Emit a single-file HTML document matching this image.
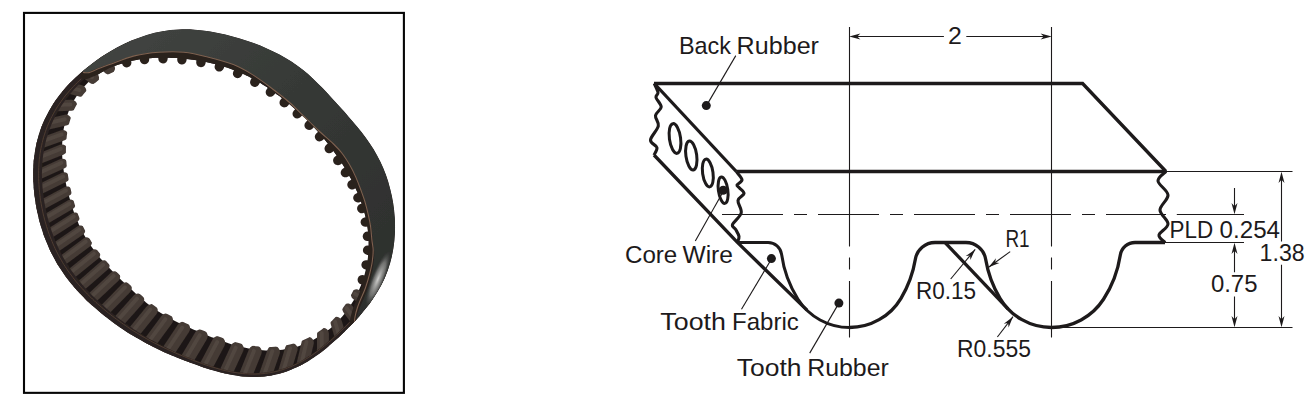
<!DOCTYPE html>
<html lang="en"><head><meta charset="utf-8"><title>Timing belt tooth profile</title>
<style>
html,body{margin:0;padding:0;background:#fff}
svg{display:block}
</style></head>
<body>
<svg width="1310" height="404" viewBox="0 0 1310 404">
<rect width="1310" height="404" fill="#fff"/>

<g>
<defs>
<clipPath id="ringclip"><path d="M390.2 188.9 C389.0 184.1 387.6 179.5 386.0 175.0 C384.3 170.4 382.5 166.0 380.4 161.7 C378.3 157.5 376.0 153.3 373.6 149.3 C371.2 145.3 368.5 141.5 365.8 137.8 C363.1 134.1 360.3 130.5 357.4 127.0 C354.6 123.5 351.7 120.2 348.8 116.9 C345.9 113.5 343.0 110.3 340.0 107.1 C337.1 103.8 334.2 100.6 331.3 97.4 C328.3 94.2 325.3 90.9 322.3 87.8 C319.2 84.6 316.0 81.5 312.8 78.4 C309.5 75.4 306.1 72.4 302.5 69.6 C299.0 66.8 295.3 64.1 291.4 61.6 C287.6 59.0 283.6 56.7 279.5 54.5 C275.4 52.3 271.2 50.3 266.8 48.4 C262.5 46.5 258.1 44.7 253.6 43.1 C249.1 41.5 244.5 39.9 239.8 38.5 C235.0 37.1 230.2 35.8 225.3 34.6 C220.4 33.4 215.4 32.4 210.3 31.5 C205.2 30.7 200.0 30.0 194.7 29.7 C189.5 29.3 184.1 29.2 178.8 29.5 C173.4 29.7 168.0 30.3 162.7 31.2 C157.4 32.1 152.0 33.4 146.8 34.9 C141.6 36.5 136.4 38.4 131.4 40.6 C126.3 42.7 121.4 45.2 116.5 47.8 C111.6 50.5 106.8 53.4 102.1 56.5 C97.5 59.6 92.9 62.9 88.4 66.4 C84.0 69.9 79.6 73.6 75.5 77.5 C71.3 81.5 67.3 85.6 63.6 90.0 C59.9 94.4 56.3 99.1 53.2 103.9 C50.1 108.8 47.2 113.9 44.8 119.1 C42.4 124.3 40.3 129.8 38.6 135.3 C37.0 140.9 35.7 146.6 34.8 152.2 C33.9 157.9 33.4 163.7 33.2 169.4 C33.0 175.1 33.2 180.9 33.6 186.5 C34.0 192.2 34.7 197.8 35.6 203.3 C36.5 208.8 37.7 214.3 39.0 219.6 C40.4 224.9 42.0 230.2 43.8 235.3 C45.7 240.4 47.7 245.4 50.0 250.3 C52.3 255.1 54.9 259.8 57.6 264.4 C60.3 268.9 63.3 273.2 66.4 277.4 C69.5 281.6 72.8 285.6 76.2 289.4 C79.5 293.2 83.1 296.9 86.7 300.4 C90.3 303.8 94.0 307.2 97.8 310.3 C101.5 313.5 105.3 316.6 109.1 319.5 C113.0 322.4 116.9 325.2 120.8 327.9 C124.7 330.6 128.7 333.1 132.7 335.6 C136.7 338.0 140.8 340.4 144.9 342.6 C149.0 344.8 153.2 346.9 157.4 348.9 C161.6 351.0 165.9 352.9 170.2 354.7 C174.5 356.6 178.9 358.4 183.3 360.1 C187.8 361.8 192.2 363.5 196.8 365.1 C201.4 366.7 206.0 368.3 210.8 369.7 C215.5 371.1 220.4 372.5 225.3 373.6 C230.3 374.6 235.4 375.6 240.5 376.2 C245.6 376.7 250.8 377.1 256.0 376.9 C261.1 376.8 266.4 376.4 271.5 375.5 C276.6 374.5 281.7 373.2 286.6 371.5 C291.5 369.8 296.3 367.7 300.9 365.3 C305.5 362.9 309.9 360.1 314.2 357.2 C318.5 354.3 322.6 351.1 326.6 347.9 C330.6 344.6 334.4 341.2 338.2 337.8 C342.0 334.3 345.6 330.8 349.2 327.1 C352.7 323.5 356.2 319.8 359.6 315.9 C362.9 312.1 366.2 308.2 369.3 304.1 C372.3 300.0 375.2 295.7 377.8 291.3 C380.4 286.9 382.8 282.4 384.9 277.7 C386.9 273.0 388.7 268.2 390.1 263.3 C391.5 258.4 392.6 253.3 393.4 248.3 C394.2 243.3 394.7 238.2 394.9 233.2 C395.1 228.2 395.1 223.1 394.8 218.1 C394.5 213.1 393.9 208.2 393.2 203.3 C392.4 198.4 391.4 193.6 390.2 188.9Z M357.4 209.9 C358.7 214.1 359.9 218.5 360.8 223.0 C361.7 227.5 362.4 232.0 362.8 236.7 C363.1 241.3 363.2 246.0 363.0 250.6 C362.8 255.3 362.3 260.0 361.4 264.6 C360.6 269.3 359.4 273.9 358.0 278.4 C356.5 282.9 354.7 287.4 352.7 291.7 C350.6 296.0 348.3 300.2 345.6 304.2 C343.0 308.2 340.1 312.0 336.9 315.6 C333.8 319.2 330.4 322.6 326.7 325.6 C323.1 328.7 319.2 331.6 315.1 334.0 C311.1 336.5 306.8 338.7 302.4 340.4 C298.0 342.2 293.4 343.6 288.8 344.7 C284.2 345.7 279.5 346.4 274.8 346.7 C270.1 347.0 265.4 347.0 260.7 346.6 C256.1 346.3 251.6 345.6 247.1 344.8 C242.7 344.0 238.4 342.9 234.2 341.7 C230.1 340.5 226.0 339.2 222.2 337.8 C218.3 336.5 214.6 335.0 211.0 333.6 C207.4 332.2 203.9 330.8 200.5 329.4 C197.1 328.0 193.9 326.7 190.6 325.3 C187.4 323.9 184.3 322.5 181.2 321.0 C178.1 319.6 175.1 318.1 172.1 316.6 C169.2 315.0 166.3 313.4 163.5 311.7 C160.7 310.0 157.9 308.2 155.3 306.4 C152.6 304.5 150.0 302.5 147.5 300.5 C145.0 298.5 142.6 296.4 140.2 294.3 C137.7 292.2 135.4 290.0 133.0 287.8 C130.7 285.6 128.4 283.4 126.0 281.2 C123.7 278.9 121.3 276.6 119.0 274.3 C116.6 272.0 114.2 269.6 111.9 267.1 C109.5 264.6 107.1 262.1 104.8 259.4 C102.5 256.7 100.2 253.9 97.9 251.0 C95.7 248.1 93.6 245.1 91.6 241.9 C89.5 238.7 87.6 235.4 85.8 232.0 C84.0 228.5 82.3 225.0 80.8 221.3 C79.2 217.6 77.8 213.8 76.5 209.9 C75.2 206.0 73.9 201.9 72.8 197.8 C71.7 193.6 70.7 189.4 69.8 185.0 C68.9 180.6 68.0 176.1 67.4 171.4 C66.8 166.8 66.3 162.0 66.1 157.2 C65.9 152.3 65.8 147.3 66.2 142.4 C66.5 137.4 67.1 132.4 68.2 127.5 C69.3 122.6 70.7 117.6 72.6 113.0 C74.5 108.4 76.9 103.8 79.6 99.7 C82.4 95.5 85.6 91.6 89.2 88.1 C92.7 84.6 96.7 81.4 100.9 78.7 C105.0 75.9 109.6 73.6 114.2 71.7 C118.8 69.7 123.7 68.2 128.5 67.0 C133.3 65.8 138.3 65.0 143.1 64.4 C148.0 63.8 152.9 63.5 157.7 63.4 C162.4 63.3 167.2 63.4 171.8 63.6 C176.4 63.9 180.9 64.3 185.4 64.8 C189.8 65.3 194.2 66.0 198.5 66.7 C202.7 67.5 206.9 68.4 211.0 69.4 C215.1 70.4 219.1 71.6 223.0 72.9 C226.9 74.2 230.7 75.6 234.4 77.2 C238.1 78.7 241.7 80.4 245.2 82.2 C248.7 84.0 252.1 85.9 255.4 87.8 C258.7 89.8 261.9 91.9 265.0 94.0 C268.1 96.1 271.1 98.3 274.1 100.6 C277.0 102.8 279.9 105.1 282.7 107.4 C285.6 109.7 288.3 112.1 291.0 114.5 C293.7 116.9 296.4 119.3 299.0 121.8 C301.6 124.3 304.2 126.9 306.8 129.5 C309.3 132.1 311.8 134.8 314.2 137.6 C316.7 140.4 319.1 143.2 321.4 146.1 C323.8 149.0 326.1 152.0 328.4 155.1 C330.6 158.2 332.9 161.4 335.0 164.7 C337.2 168.0 339.4 171.4 341.4 174.9 C343.5 178.4 345.5 182.1 347.4 185.8 C349.3 189.6 351.2 193.5 352.9 197.5 C354.5 201.5 356.1 205.6 357.4 209.9Z" clip-rule="evenodd"/></clipPath>
<clipPath id="rootclip"><path d="M390.2 188.9 C389.0 184.1 387.6 179.5 386.0 175.0 C384.3 170.4 382.5 166.0 380.4 161.7 C378.3 157.5 376.0 153.3 373.6 149.3 C371.2 145.3 368.5 141.5 365.8 137.8 C363.1 134.1 360.3 130.5 357.4 127.0 C354.6 123.5 351.7 120.2 348.8 116.9 C345.9 113.5 343.0 110.3 340.0 107.1 C337.1 103.8 334.2 100.6 331.3 97.4 C328.3 94.2 325.3 90.9 322.3 87.8 C319.2 84.6 316.0 81.5 312.8 78.4 C309.5 75.4 306.1 72.4 302.5 69.6 C299.0 66.8 295.3 64.1 291.4 61.6 C287.6 59.0 283.6 56.7 279.5 54.5 C275.4 52.3 271.2 50.3 266.8 48.4 C262.5 46.5 258.1 44.7 253.6 43.1 C249.1 41.5 244.5 39.9 239.8 38.5 C235.0 37.1 230.2 35.8 225.3 34.6 C220.4 33.4 215.4 32.4 210.3 31.5 C205.2 30.7 200.0 30.0 194.7 29.7 C189.5 29.3 184.1 29.2 178.8 29.5 C173.4 29.7 168.0 30.3 162.7 31.2 C157.4 32.1 152.0 33.4 146.8 34.9 C141.6 36.5 136.4 38.4 131.4 40.6 C126.3 42.7 121.4 45.2 116.5 47.8 C111.6 50.5 106.8 53.4 102.1 56.5 C97.5 59.6 92.9 62.9 88.4 66.4 C84.0 69.9 79.6 73.6 75.5 77.5 C71.3 81.5 67.3 85.6 63.6 90.0 C59.9 94.4 56.3 99.1 53.2 103.9 C50.1 108.8 47.2 113.9 44.8 119.1 C42.4 124.3 40.3 129.8 38.6 135.3 C37.0 140.9 35.7 146.6 34.8 152.2 C33.9 157.9 33.4 163.7 33.2 169.4 C33.0 175.1 33.2 180.9 33.6 186.5 C34.0 192.2 34.7 197.8 35.6 203.3 C36.5 208.8 37.7 214.3 39.0 219.6 C40.4 224.9 42.0 230.2 43.8 235.3 C45.7 240.4 47.7 245.4 50.0 250.3 C52.3 255.1 54.9 259.8 57.6 264.4 C60.3 268.9 63.3 273.2 66.4 277.4 C69.5 281.6 72.8 285.6 76.2 289.4 C79.5 293.2 83.1 296.9 86.7 300.4 C90.3 303.8 94.0 307.2 97.8 310.3 C101.5 313.5 105.3 316.6 109.1 319.5 C113.0 322.4 116.9 325.2 120.8 327.9 C124.7 330.6 128.7 333.1 132.7 335.6 C136.7 338.0 140.8 340.4 144.9 342.6 C149.0 344.8 153.2 346.9 157.4 348.9 C161.6 351.0 165.9 352.9 170.2 354.7 C174.5 356.6 178.9 358.4 183.3 360.1 C187.8 361.8 192.2 363.5 196.8 365.1 C201.4 366.7 206.0 368.3 210.8 369.7 C215.5 371.1 220.4 372.5 225.3 373.6 C230.3 374.6 235.4 375.6 240.5 376.2 C245.6 376.7 250.8 377.1 256.0 376.9 C261.1 376.8 266.4 376.4 271.5 375.5 C276.6 374.5 281.7 373.2 286.6 371.5 C291.5 369.8 296.3 367.7 300.9 365.3 C305.5 362.9 309.9 360.1 314.2 357.2 C318.5 354.3 322.6 351.1 326.6 347.9 C330.6 344.6 334.4 341.2 338.2 337.8 C342.0 334.3 345.6 330.8 349.2 327.1 C352.7 323.5 356.2 319.8 359.6 315.9 C362.9 312.1 366.2 308.2 369.3 304.1 C372.3 300.0 375.2 295.7 377.8 291.3 C380.4 286.9 382.8 282.4 384.9 277.7 C386.9 273.0 388.7 268.2 390.1 263.3 C391.5 258.4 392.6 253.3 393.4 248.3 C394.2 243.3 394.7 238.2 394.9 233.2 C395.1 228.2 395.1 223.1 394.8 218.1 C394.5 213.1 393.9 208.2 393.2 203.3 C392.4 198.4 391.4 193.6 390.2 188.9Z M363.2 208.1 C363.6 209.6 364.0 211.1 364.4 212.6 C364.8 214.1 365.2 215.6 365.6 217.2 C365.9 218.7 366.3 220.3 366.6 221.8 C366.9 223.4 367.1 225.0 367.4 226.6 C367.6 228.1 367.8 229.7 368.0 231.4 C368.2 233.0 368.3 234.6 368.4 236.2 C368.6 237.8 368.6 239.4 368.7 241.1 C368.7 242.7 368.7 244.3 368.7 246.0 C368.7 247.6 368.6 249.3 368.5 250.9 C368.4 252.5 368.3 254.2 368.1 255.8 C368.0 257.4 367.8 259.1 367.5 260.7 C367.3 262.3 367.0 264.0 366.7 265.6 C366.4 267.2 366.0 268.8 365.6 270.5 C365.2 272.1 364.8 273.7 364.4 275.3 C363.9 276.9 363.4 278.4 362.9 280.0 C362.4 281.6 361.8 283.2 361.2 284.7 C360.6 286.3 359.9 287.8 359.3 289.3 C358.6 290.8 357.9 292.4 357.2 293.8 C356.4 295.3 355.7 296.8 354.9 298.3 C354.0 299.7 353.2 301.2 352.3 302.6 C351.5 304.0 350.6 305.4 349.6 306.8 C348.7 308.2 347.7 309.5 346.7 310.9 C345.7 312.2 344.7 313.5 343.7 314.8 C342.6 316.1 341.5 317.4 340.4 318.6 C339.3 319.9 338.1 321.1 337.0 322.3 C335.8 323.4 334.6 324.6 333.4 325.7 C332.1 326.9 330.9 327.9 329.6 329.0 C328.3 330.1 327.0 331.1 325.6 332.1 C324.3 333.1 322.9 334.0 321.6 335.0 C320.2 335.9 318.8 336.8 317.3 337.6 C315.9 338.5 314.4 339.3 313.0 340.0 C311.5 340.8 310.0 341.6 308.5 342.2 C307.0 342.9 305.5 343.6 303.9 344.2 C302.4 344.8 300.8 345.3 299.2 345.9 C297.7 346.4 296.1 346.9 294.5 347.3 C292.9 347.7 291.3 348.1 289.7 348.4 C288.0 348.8 286.4 349.1 284.8 349.3 C283.2 349.6 281.5 349.8 279.9 350.0 C278.3 350.2 276.7 350.3 275.0 350.4 C273.4 350.5 271.8 350.5 270.1 350.5 C268.5 350.5 266.9 350.5 265.3 350.4 C263.7 350.4 262.1 350.3 260.5 350.1 C258.9 350.0 257.3 349.8 255.8 349.6 C254.2 349.4 252.6 349.2 251.1 348.9 C249.5 348.7 248.0 348.4 246.5 348.1 C245.0 347.8 243.5 347.5 242.0 347.1 C240.5 346.8 239.1 346.4 237.6 346.0 C236.2 345.6 234.8 345.2 233.4 344.8 C231.9 344.4 230.5 343.9 229.2 343.5 C227.8 343.0 226.4 342.6 225.1 342.1 C223.8 341.7 222.5 341.2 221.2 340.7 C219.9 340.2 218.6 339.8 217.3 339.3 C216.0 338.8 214.8 338.3 213.6 337.8 C212.3 337.3 211.1 336.9 209.9 336.4 C208.7 335.9 207.5 335.4 206.3 334.9 C205.2 334.4 204.0 334.0 202.9 333.5 C201.7 333.0 200.6 332.5 199.4 332.0 C198.3 331.6 197.2 331.1 196.1 330.6 C195.0 330.1 193.9 329.6 192.8 329.2 C191.7 328.7 190.6 328.2 189.6 327.7 C188.5 327.3 187.4 326.8 186.4 326.3 C185.3 325.8 184.3 325.4 183.2 324.9 C182.2 324.4 181.1 323.9 180.1 323.4 C179.0 322.9 178.0 322.4 177.0 321.9 C176.0 321.4 175.0 320.9 174.0 320.4 C173.0 319.9 172.0 319.4 171.0 318.8 C170.0 318.3 169.0 317.8 168.0 317.2 C167.0 316.7 166.0 316.1 165.1 315.6 C164.1 315.0 163.2 314.4 162.2 313.8 C161.3 313.3 160.3 312.7 159.4 312.1 C158.4 311.5 157.5 310.9 156.6 310.2 C155.7 309.6 154.8 309.0 153.9 308.4 C153.0 307.7 152.1 307.1 151.2 306.4 C150.3 305.8 149.4 305.1 148.6 304.4 C147.7 303.8 146.9 303.1 146.0 302.4 C145.2 301.7 144.3 301.0 143.5 300.3 C142.6 299.6 141.8 298.9 141.0 298.2 C140.2 297.5 139.4 296.8 138.6 296.1 C137.8 295.4 136.9 294.7 136.1 293.9 C135.3 293.2 134.6 292.5 133.8 291.8 C133.0 291.0 132.2 290.3 131.4 289.6 C130.6 288.8 129.8 288.1 129.0 287.4 C128.3 286.6 127.5 285.9 126.7 285.2 C125.9 284.4 125.1 283.7 124.3 282.9 C123.6 282.2 122.8 281.4 122.0 280.7 C121.2 279.9 120.4 279.1 119.6 278.4 C118.8 277.6 118.0 276.8 117.3 276.0 C116.5 275.3 115.7 274.5 114.9 273.7 C114.1 272.9 113.3 272.1 112.5 271.3 C111.7 270.5 110.9 269.7 110.1 268.8 C109.3 268.0 108.5 267.2 107.7 266.3 C106.9 265.5 106.1 264.6 105.3 263.7 C104.5 262.9 103.7 262.0 102.9 261.1 C102.1 260.2 101.3 259.3 100.5 258.4 C99.7 257.4 98.9 256.5 98.1 255.5 C97.4 254.6 96.6 253.6 95.8 252.6 C95.1 251.6 94.3 250.6 93.6 249.6 C92.8 248.6 92.1 247.6 91.4 246.5 C90.7 245.5 89.9 244.4 89.2 243.4 C88.5 242.3 87.9 241.2 87.2 240.1 C86.5 239.0 85.8 237.9 85.2 236.7 C84.5 235.6 83.9 234.4 83.3 233.3 C82.7 232.1 82.1 230.9 81.5 229.7 C80.9 228.6 80.3 227.3 79.7 226.1 C79.1 224.9 78.6 223.7 78.1 222.4 C77.5 221.2 77.0 219.9 76.5 218.7 C76.0 217.4 75.5 216.1 75.0 214.8 C74.5 213.5 74.0 212.2 73.5 210.9 C73.1 209.6 72.6 208.2 72.2 206.9 C71.7 205.5 71.3 204.2 70.9 202.8 C70.5 201.4 70.1 200.0 69.7 198.6 C69.3 197.2 68.9 195.8 68.5 194.4 C68.2 193.0 67.8 191.5 67.4 190.1 C67.1 188.6 66.8 187.2 66.4 185.7 C66.1 184.2 65.8 182.7 65.5 181.2 C65.2 179.7 64.9 178.1 64.6 176.6 C64.4 175.0 64.1 173.5 63.9 171.9 C63.7 170.3 63.4 168.7 63.2 167.1 C63.1 165.5 62.9 163.9 62.7 162.3 C62.6 160.6 62.4 159.0 62.3 157.3 C62.2 155.7 62.2 154.0 62.1 152.3 C62.1 150.6 62.1 148.9 62.1 147.2 C62.1 145.5 62.2 143.8 62.3 142.1 C62.4 140.4 62.5 138.7 62.7 137.0 C62.8 135.2 63.0 133.5 63.3 131.8 C63.5 130.0 63.8 128.3 64.2 126.6 C64.5 124.9 64.9 123.2 65.4 121.5 C65.8 119.8 66.3 118.1 66.8 116.4 C67.4 114.7 68.0 113.0 68.6 111.4 C69.3 109.7 70.0 108.1 70.7 106.5 C71.5 104.9 72.3 103.3 73.1 101.8 C74.0 100.2 74.9 98.7 75.9 97.2 C76.8 95.7 77.8 94.2 78.9 92.8 C80.0 91.4 81.1 90.0 82.3 88.6 C83.4 87.3 84.6 86.0 85.9 84.7 C87.1 83.5 88.4 82.2 89.8 81.1 C91.1 79.9 92.5 78.8 93.9 77.7 C95.3 76.6 96.7 75.6 98.2 74.6 C99.7 73.6 101.2 72.7 102.7 71.8 C104.3 70.9 105.9 70.0 107.4 69.2 C109.0 68.5 110.6 67.7 112.2 67.0 C113.9 66.3 115.5 65.6 117.2 65.0 C118.8 64.4 120.5 63.9 122.2 63.4 C123.9 62.8 125.5 62.4 127.2 61.9 C128.9 61.5 130.6 61.1 132.3 60.7 C134.0 60.4 135.7 60.1 137.4 59.8 C139.1 59.5 140.8 59.2 142.5 59.0 C144.2 58.8 145.9 58.6 147.5 58.4 C149.2 58.3 150.9 58.1 152.6 58.0 C154.2 57.9 155.9 57.8 157.5 57.8 C159.2 57.7 160.8 57.7 162.4 57.7 C164.1 57.7 165.7 57.7 167.3 57.7 C168.9 57.7 170.5 57.8 172.1 57.9 C173.7 57.9 175.2 58.0 176.8 58.1 C178.4 58.2 179.9 58.3 181.5 58.4 C183.0 58.6 184.6 58.7 186.1 58.9 C187.6 59.0 189.1 59.2 190.6 59.4 C192.1 59.6 193.6 59.8 195.1 60.0 C196.6 60.3 198.1 60.5 199.5 60.7 C201.0 61.0 202.5 61.2 203.9 61.5 C205.4 61.8 206.8 62.1 208.2 62.4 C209.7 62.7 211.1 63.0 212.5 63.4 C213.9 63.7 215.3 64.1 216.7 64.4 C218.1 64.8 219.5 65.2 220.9 65.6 C222.2 66.0 223.6 66.4 225.0 66.9 C226.3 67.3 227.7 67.7 229.0 68.2 C230.3 68.7 231.7 69.2 233.0 69.7 C234.3 70.2 235.6 70.7 236.9 71.2 C238.2 71.7 239.4 72.3 240.7 72.8 C242.0 73.4 243.2 74.0 244.5 74.5 C245.7 75.1 247.0 75.7 248.2 76.3 C249.4 76.9 250.6 77.6 251.8 78.2 C253.0 78.8 254.2 79.5 255.3 80.2 C256.5 80.8 257.7 81.5 258.8 82.1 C260.0 82.8 261.1 83.5 262.2 84.2 C263.3 84.9 264.4 85.6 265.5 86.3 C266.6 87.0 267.7 87.8 268.8 88.5 C269.9 89.2 270.9 90.0 272.0 90.7 C273.0 91.4 274.1 92.2 275.1 92.9 C276.1 93.7 277.1 94.4 278.2 95.2 C279.2 95.9 280.2 96.7 281.2 97.5 C282.2 98.3 283.2 99.0 284.1 99.8 C285.1 100.6 286.1 101.4 287.0 102.2 C288.0 103.0 289.0 103.7 289.9 104.5 C290.9 105.3 291.8 106.1 292.7 107.0 C293.7 107.8 294.6 108.6 295.5 109.4 C296.5 110.2 297.4 111.0 298.3 111.9 C299.2 112.7 300.1 113.5 301.0 114.4 C301.9 115.2 302.8 116.1 303.7 116.9 C304.6 117.8 305.5 118.6 306.4 119.5 C307.3 120.4 308.1 121.3 309.0 122.1 C309.9 123.0 310.8 123.9 311.6 124.8 C312.5 125.7 313.3 126.6 314.2 127.5 C315.0 128.5 315.9 129.4 316.7 130.3 C317.6 131.2 318.4 132.2 319.3 133.1 C320.1 134.1 320.9 135.1 321.7 136.0 C322.6 137.0 323.4 138.0 324.2 138.9 C325.0 139.9 325.8 140.9 326.6 141.9 C327.4 142.9 328.2 144.0 329.0 145.0 C329.8 146.0 330.6 147.0 331.4 148.1 C332.1 149.1 332.9 150.2 333.7 151.2 C334.5 152.3 335.2 153.4 336.0 154.5 C336.7 155.6 337.5 156.7 338.2 157.8 C339.0 158.9 339.7 160.0 340.5 161.1 C341.2 162.3 341.9 163.4 342.7 164.6 C343.4 165.7 344.1 166.9 344.8 168.1 C345.5 169.3 346.3 170.5 347.0 171.7 C347.7 172.9 348.3 174.1 349.0 175.3 C349.7 176.6 350.4 177.8 351.1 179.1 C351.7 180.4 352.4 181.7 353.0 183.0 C353.7 184.3 354.3 185.6 354.9 186.9 C355.6 188.2 356.2 189.6 356.8 191.0 C357.4 192.3 358.0 193.7 358.5 195.1 C359.1 196.5 359.6 197.9 360.2 199.3 C360.7 200.8 361.2 202.2 361.7 203.7 C362.2 205.1 362.7 206.6 363.2 208.1Z" clip-rule="evenodd"/></clipPath>
<clipPath id="cresclip"><path d="M83.0 72.5 C84.0 72.5 86.7 73.1 89.0 72.6 C91.3 72.1 93.6 70.6 97.0 69.3 C100.4 68.0 103.3 66.8 109.5 64.6 C115.7 62.4 126.1 58.0 134.3 55.9 C142.6 53.8 150.8 52.8 159.0 52.2 C167.2 51.6 175.6 51.4 183.8 52.2 C192.1 53.0 200.2 55.1 208.5 57.2 C216.8 59.3 226.0 61.7 233.3 64.6 C240.6 67.5 246.3 70.9 252.4 74.6 C258.5 78.3 263.8 82.3 270.0 87.0 C276.2 91.7 283.7 97.4 289.5 102.5 C295.3 107.6 300.1 112.8 305.0 117.5 C309.9 122.2 314.2 126.6 319.0 131.0 C323.8 135.4 329.6 140.2 333.5 144.0 C337.4 147.8 339.5 150.0 342.2 153.5 C344.9 157.0 347.3 160.9 349.6 164.8 C351.9 168.7 354.0 173.0 355.8 177.1 C357.6 181.2 359.2 185.4 360.7 189.5 C362.2 193.6 363.8 197.8 365.0 201.9 C366.2 206.0 367.3 210.2 368.2 214.3 C369.1 218.4 370.0 222.3 370.6 226.6 C371.2 230.9 371.5 236.1 371.9 240.0 C372.3 243.9 373.1 246.3 373.2 250.0 C373.2 253.7 372.8 257.9 372.2 262.0 C371.6 266.1 370.6 270.1 369.5 274.4 C368.4 278.7 366.8 284.0 365.4 288.0 C364.0 292.0 362.4 295.2 361.0 298.5 C359.6 301.8 358.3 304.9 357.3 308.0 C356.3 311.1 355.6 313.7 355.0 317.0 C354.4 320.3 354.2 326.2 354.0 328.0 L430 328 L430 0 L40 0 Z"/></clipPath>
<linearGradient id="backg" x1="0" y1="0" x2="1" y2="1">
<stop offset="0" stop-color="#454845"/><stop offset="0.45" stop-color="#363936"/><stop offset="1" stop-color="#2a2c2a"/>
</linearGradient>
<radialGradient id="glare" cx="0.5" cy="0.5" r="0.5">
<stop offset="0" stop-color="#d8d8d6" stop-opacity="0.95"/><stop offset="0.6" stop-color="#9a9a98" stop-opacity="0.6"/><stop offset="1" stop-color="#555" stop-opacity="0"/>
</radialGradient>
<filter id="soft" x="-5%" y="-5%" width="110%" height="110%"><feGaussianBlur stdDeviation="0.7"/></filter>
</defs>
<g filter="url(#soft)">
<path d="M390.2 188.9 C389.0 184.1 387.6 179.5 386.0 175.0 C384.3 170.4 382.5 166.0 380.4 161.7 C378.3 157.5 376.0 153.3 373.6 149.3 C371.2 145.3 368.5 141.5 365.8 137.8 C363.1 134.1 360.3 130.5 357.4 127.0 C354.6 123.5 351.7 120.2 348.8 116.9 C345.9 113.5 343.0 110.3 340.0 107.1 C337.1 103.8 334.2 100.6 331.3 97.4 C328.3 94.2 325.3 90.9 322.3 87.8 C319.2 84.6 316.0 81.5 312.8 78.4 C309.5 75.4 306.1 72.4 302.5 69.6 C299.0 66.8 295.3 64.1 291.4 61.6 C287.6 59.0 283.6 56.7 279.5 54.5 C275.4 52.3 271.2 50.3 266.8 48.4 C262.5 46.5 258.1 44.7 253.6 43.1 C249.1 41.5 244.5 39.9 239.8 38.5 C235.0 37.1 230.2 35.8 225.3 34.6 C220.4 33.4 215.4 32.4 210.3 31.5 C205.2 30.7 200.0 30.0 194.7 29.7 C189.5 29.3 184.1 29.2 178.8 29.5 C173.4 29.7 168.0 30.3 162.7 31.2 C157.4 32.1 152.0 33.4 146.8 34.9 C141.6 36.5 136.4 38.4 131.4 40.6 C126.3 42.7 121.4 45.2 116.5 47.8 C111.6 50.5 106.8 53.4 102.1 56.5 C97.5 59.6 92.9 62.9 88.4 66.4 C84.0 69.9 79.6 73.6 75.5 77.5 C71.3 81.5 67.3 85.6 63.6 90.0 C59.9 94.4 56.3 99.1 53.2 103.9 C50.1 108.8 47.2 113.9 44.8 119.1 C42.4 124.3 40.3 129.8 38.6 135.3 C37.0 140.9 35.7 146.6 34.8 152.2 C33.9 157.9 33.4 163.7 33.2 169.4 C33.0 175.1 33.2 180.9 33.6 186.5 C34.0 192.2 34.7 197.8 35.6 203.3 C36.5 208.8 37.7 214.3 39.0 219.6 C40.4 224.9 42.0 230.2 43.8 235.3 C45.7 240.4 47.7 245.4 50.0 250.3 C52.3 255.1 54.9 259.8 57.6 264.4 C60.3 268.9 63.3 273.2 66.4 277.4 C69.5 281.6 72.8 285.6 76.2 289.4 C79.5 293.2 83.1 296.9 86.7 300.4 C90.3 303.8 94.0 307.2 97.8 310.3 C101.5 313.5 105.3 316.6 109.1 319.5 C113.0 322.4 116.9 325.2 120.8 327.9 C124.7 330.6 128.7 333.1 132.7 335.6 C136.7 338.0 140.8 340.4 144.9 342.6 C149.0 344.8 153.2 346.9 157.4 348.9 C161.6 351.0 165.9 352.9 170.2 354.7 C174.5 356.6 178.9 358.4 183.3 360.1 C187.8 361.8 192.2 363.5 196.8 365.1 C201.4 366.7 206.0 368.3 210.8 369.7 C215.5 371.1 220.4 372.5 225.3 373.6 C230.3 374.6 235.4 375.6 240.5 376.2 C245.6 376.7 250.8 377.1 256.0 376.9 C261.1 376.8 266.4 376.4 271.5 375.5 C276.6 374.5 281.7 373.2 286.6 371.5 C291.5 369.8 296.3 367.7 300.9 365.3 C305.5 362.9 309.9 360.1 314.2 357.2 C318.5 354.3 322.6 351.1 326.6 347.9 C330.6 344.6 334.4 341.2 338.2 337.8 C342.0 334.3 345.6 330.8 349.2 327.1 C352.7 323.5 356.2 319.8 359.6 315.9 C362.9 312.1 366.2 308.2 369.3 304.1 C372.3 300.0 375.2 295.7 377.8 291.3 C380.4 286.9 382.8 282.4 384.9 277.7 C386.9 273.0 388.7 268.2 390.1 263.3 C391.5 258.4 392.6 253.3 393.4 248.3 C394.2 243.3 394.7 238.2 394.9 233.2 C395.1 228.2 395.1 223.1 394.8 218.1 C394.5 213.1 393.9 208.2 393.2 203.3 C392.4 198.4 391.4 193.6 390.2 188.9Z M363.2 208.1 C363.6 209.6 364.0 211.1 364.4 212.6 C364.8 214.1 365.2 215.6 365.6 217.2 C365.9 218.7 366.3 220.3 366.6 221.8 C366.9 223.4 367.1 225.0 367.4 226.6 C367.6 228.1 367.8 229.7 368.0 231.4 C368.2 233.0 368.3 234.6 368.4 236.2 C368.6 237.8 368.6 239.4 368.7 241.1 C368.7 242.7 368.7 244.3 368.7 246.0 C368.7 247.6 368.6 249.3 368.5 250.9 C368.4 252.5 368.3 254.2 368.1 255.8 C368.0 257.4 367.8 259.1 367.5 260.7 C367.3 262.3 367.0 264.0 366.7 265.6 C366.4 267.2 366.0 268.8 365.6 270.5 C365.2 272.1 364.8 273.7 364.4 275.3 C363.9 276.9 363.4 278.4 362.9 280.0 C362.4 281.6 361.8 283.2 361.2 284.7 C360.6 286.3 359.9 287.8 359.3 289.3 C358.6 290.8 357.9 292.4 357.2 293.8 C356.4 295.3 355.7 296.8 354.9 298.3 C354.0 299.7 353.2 301.2 352.3 302.6 C351.5 304.0 350.6 305.4 349.6 306.8 C348.7 308.2 347.7 309.5 346.7 310.9 C345.7 312.2 344.7 313.5 343.7 314.8 C342.6 316.1 341.5 317.4 340.4 318.6 C339.3 319.9 338.1 321.1 337.0 322.3 C335.8 323.4 334.6 324.6 333.4 325.7 C332.1 326.9 330.9 327.9 329.6 329.0 C328.3 330.1 327.0 331.1 325.6 332.1 C324.3 333.1 322.9 334.0 321.6 335.0 C320.2 335.9 318.8 336.8 317.3 337.6 C315.9 338.5 314.4 339.3 313.0 340.0 C311.5 340.8 310.0 341.6 308.5 342.2 C307.0 342.9 305.5 343.6 303.9 344.2 C302.4 344.8 300.8 345.3 299.2 345.9 C297.7 346.4 296.1 346.9 294.5 347.3 C292.9 347.7 291.3 348.1 289.7 348.4 C288.0 348.8 286.4 349.1 284.8 349.3 C283.2 349.6 281.5 349.8 279.9 350.0 C278.3 350.2 276.7 350.3 275.0 350.4 C273.4 350.5 271.8 350.5 270.1 350.5 C268.5 350.5 266.9 350.5 265.3 350.4 C263.7 350.4 262.1 350.3 260.5 350.1 C258.9 350.0 257.3 349.8 255.8 349.6 C254.2 349.4 252.6 349.2 251.1 348.9 C249.5 348.7 248.0 348.4 246.5 348.1 C245.0 347.8 243.5 347.5 242.0 347.1 C240.5 346.8 239.1 346.4 237.6 346.0 C236.2 345.6 234.8 345.2 233.4 344.8 C231.9 344.4 230.5 343.9 229.2 343.5 C227.8 343.0 226.4 342.6 225.1 342.1 C223.8 341.7 222.5 341.2 221.2 340.7 C219.9 340.2 218.6 339.8 217.3 339.3 C216.0 338.8 214.8 338.3 213.6 337.8 C212.3 337.3 211.1 336.9 209.9 336.4 C208.7 335.9 207.5 335.4 206.3 334.9 C205.2 334.4 204.0 334.0 202.9 333.5 C201.7 333.0 200.6 332.5 199.4 332.0 C198.3 331.6 197.2 331.1 196.1 330.6 C195.0 330.1 193.9 329.6 192.8 329.2 C191.7 328.7 190.6 328.2 189.6 327.7 C188.5 327.3 187.4 326.8 186.4 326.3 C185.3 325.8 184.3 325.4 183.2 324.9 C182.2 324.4 181.1 323.9 180.1 323.4 C179.0 322.9 178.0 322.4 177.0 321.9 C176.0 321.4 175.0 320.9 174.0 320.4 C173.0 319.9 172.0 319.4 171.0 318.8 C170.0 318.3 169.0 317.8 168.0 317.2 C167.0 316.7 166.0 316.1 165.1 315.6 C164.1 315.0 163.2 314.4 162.2 313.8 C161.3 313.3 160.3 312.7 159.4 312.1 C158.4 311.5 157.5 310.9 156.6 310.2 C155.7 309.6 154.8 309.0 153.9 308.4 C153.0 307.7 152.1 307.1 151.2 306.4 C150.3 305.8 149.4 305.1 148.6 304.4 C147.7 303.8 146.9 303.1 146.0 302.4 C145.2 301.7 144.3 301.0 143.5 300.3 C142.6 299.6 141.8 298.9 141.0 298.2 C140.2 297.5 139.4 296.8 138.6 296.1 C137.8 295.4 136.9 294.7 136.1 293.9 C135.3 293.2 134.6 292.5 133.8 291.8 C133.0 291.0 132.2 290.3 131.4 289.6 C130.6 288.8 129.8 288.1 129.0 287.4 C128.3 286.6 127.5 285.9 126.7 285.2 C125.9 284.4 125.1 283.7 124.3 282.9 C123.6 282.2 122.8 281.4 122.0 280.7 C121.2 279.9 120.4 279.1 119.6 278.4 C118.8 277.6 118.0 276.8 117.3 276.0 C116.5 275.3 115.7 274.5 114.9 273.7 C114.1 272.9 113.3 272.1 112.5 271.3 C111.7 270.5 110.9 269.7 110.1 268.8 C109.3 268.0 108.5 267.2 107.7 266.3 C106.9 265.5 106.1 264.6 105.3 263.7 C104.5 262.9 103.7 262.0 102.9 261.1 C102.1 260.2 101.3 259.3 100.5 258.4 C99.7 257.4 98.9 256.5 98.1 255.5 C97.4 254.6 96.6 253.6 95.8 252.6 C95.1 251.6 94.3 250.6 93.6 249.6 C92.8 248.6 92.1 247.6 91.4 246.5 C90.7 245.5 89.9 244.4 89.2 243.4 C88.5 242.3 87.9 241.2 87.2 240.1 C86.5 239.0 85.8 237.9 85.2 236.7 C84.5 235.6 83.9 234.4 83.3 233.3 C82.7 232.1 82.1 230.9 81.5 229.7 C80.9 228.6 80.3 227.3 79.7 226.1 C79.1 224.9 78.6 223.7 78.1 222.4 C77.5 221.2 77.0 219.9 76.5 218.7 C76.0 217.4 75.5 216.1 75.0 214.8 C74.5 213.5 74.0 212.2 73.5 210.9 C73.1 209.6 72.6 208.2 72.2 206.9 C71.7 205.5 71.3 204.2 70.9 202.8 C70.5 201.4 70.1 200.0 69.7 198.6 C69.3 197.2 68.9 195.8 68.5 194.4 C68.2 193.0 67.8 191.5 67.4 190.1 C67.1 188.6 66.8 187.2 66.4 185.7 C66.1 184.2 65.8 182.7 65.5 181.2 C65.2 179.7 64.9 178.1 64.6 176.6 C64.4 175.0 64.1 173.5 63.9 171.9 C63.7 170.3 63.4 168.7 63.2 167.1 C63.1 165.5 62.9 163.9 62.7 162.3 C62.6 160.6 62.4 159.0 62.3 157.3 C62.2 155.7 62.2 154.0 62.1 152.3 C62.1 150.6 62.1 148.9 62.1 147.2 C62.1 145.5 62.2 143.8 62.3 142.1 C62.4 140.4 62.5 138.7 62.7 137.0 C62.8 135.2 63.0 133.5 63.3 131.8 C63.5 130.0 63.8 128.3 64.2 126.6 C64.5 124.9 64.9 123.2 65.4 121.5 C65.8 119.8 66.3 118.1 66.8 116.4 C67.4 114.7 68.0 113.0 68.6 111.4 C69.3 109.7 70.0 108.1 70.7 106.5 C71.5 104.9 72.3 103.3 73.1 101.8 C74.0 100.2 74.9 98.7 75.9 97.2 C76.8 95.7 77.8 94.2 78.9 92.8 C80.0 91.4 81.1 90.0 82.3 88.6 C83.4 87.3 84.6 86.0 85.9 84.7 C87.1 83.5 88.4 82.2 89.8 81.1 C91.1 79.9 92.5 78.8 93.9 77.7 C95.3 76.6 96.7 75.6 98.2 74.6 C99.7 73.6 101.2 72.7 102.7 71.8 C104.3 70.9 105.9 70.0 107.4 69.2 C109.0 68.5 110.6 67.7 112.2 67.0 C113.9 66.3 115.5 65.6 117.2 65.0 C118.8 64.4 120.5 63.9 122.2 63.4 C123.9 62.8 125.5 62.4 127.2 61.9 C128.9 61.5 130.6 61.1 132.3 60.7 C134.0 60.4 135.7 60.1 137.4 59.8 C139.1 59.5 140.8 59.2 142.5 59.0 C144.2 58.8 145.9 58.6 147.5 58.4 C149.2 58.3 150.9 58.1 152.6 58.0 C154.2 57.9 155.9 57.8 157.5 57.8 C159.2 57.7 160.8 57.7 162.4 57.7 C164.1 57.7 165.7 57.7 167.3 57.7 C168.9 57.7 170.5 57.8 172.1 57.9 C173.7 57.9 175.2 58.0 176.8 58.1 C178.4 58.2 179.9 58.3 181.5 58.4 C183.0 58.6 184.6 58.7 186.1 58.9 C187.6 59.0 189.1 59.2 190.6 59.4 C192.1 59.6 193.6 59.8 195.1 60.0 C196.6 60.3 198.1 60.5 199.5 60.7 C201.0 61.0 202.5 61.2 203.9 61.5 C205.4 61.8 206.8 62.1 208.2 62.4 C209.7 62.7 211.1 63.0 212.5 63.4 C213.9 63.7 215.3 64.1 216.7 64.4 C218.1 64.8 219.5 65.2 220.9 65.6 C222.2 66.0 223.6 66.4 225.0 66.9 C226.3 67.3 227.7 67.7 229.0 68.2 C230.3 68.7 231.7 69.2 233.0 69.7 C234.3 70.2 235.6 70.7 236.9 71.2 C238.2 71.7 239.4 72.3 240.7 72.8 C242.0 73.4 243.2 74.0 244.5 74.5 C245.7 75.1 247.0 75.7 248.2 76.3 C249.4 76.9 250.6 77.6 251.8 78.2 C253.0 78.8 254.2 79.5 255.3 80.2 C256.5 80.8 257.7 81.5 258.8 82.1 C260.0 82.8 261.1 83.5 262.2 84.2 C263.3 84.9 264.4 85.6 265.5 86.3 C266.6 87.0 267.7 87.8 268.8 88.5 C269.9 89.2 270.9 90.0 272.0 90.7 C273.0 91.4 274.1 92.2 275.1 92.9 C276.1 93.7 277.1 94.4 278.2 95.2 C279.2 95.9 280.2 96.7 281.2 97.5 C282.2 98.3 283.2 99.0 284.1 99.8 C285.1 100.6 286.1 101.4 287.0 102.2 C288.0 103.0 289.0 103.7 289.9 104.5 C290.9 105.3 291.8 106.1 292.7 107.0 C293.7 107.8 294.6 108.6 295.5 109.4 C296.5 110.2 297.4 111.0 298.3 111.9 C299.2 112.7 300.1 113.5 301.0 114.4 C301.9 115.2 302.8 116.1 303.7 116.9 C304.6 117.8 305.5 118.6 306.4 119.5 C307.3 120.4 308.1 121.3 309.0 122.1 C309.9 123.0 310.8 123.9 311.6 124.8 C312.5 125.7 313.3 126.6 314.2 127.5 C315.0 128.5 315.9 129.4 316.7 130.3 C317.6 131.2 318.4 132.2 319.3 133.1 C320.1 134.1 320.9 135.1 321.7 136.0 C322.6 137.0 323.4 138.0 324.2 138.9 C325.0 139.9 325.8 140.9 326.6 141.9 C327.4 142.9 328.2 144.0 329.0 145.0 C329.8 146.0 330.6 147.0 331.4 148.1 C332.1 149.1 332.9 150.2 333.7 151.2 C334.5 152.3 335.2 153.4 336.0 154.5 C336.7 155.6 337.5 156.7 338.2 157.8 C339.0 158.9 339.7 160.0 340.5 161.1 C341.2 162.3 341.9 163.4 342.7 164.6 C343.4 165.7 344.1 166.9 344.8 168.1 C345.5 169.3 346.3 170.5 347.0 171.7 C347.7 172.9 348.3 174.1 349.0 175.3 C349.7 176.6 350.4 177.8 351.1 179.1 C351.7 180.4 352.4 181.7 353.0 183.0 C353.7 184.3 354.3 185.6 354.9 186.9 C355.6 188.2 356.2 189.6 356.8 191.0 C357.4 192.3 358.0 193.7 358.5 195.1 C359.1 196.5 359.6 197.9 360.2 199.3 C360.7 200.8 361.2 202.2 361.7 203.7 C362.2 205.1 362.7 206.6 363.2 208.1Z" fill="#1f1917" fill-rule="evenodd"/>
<path d="M361.8 208.5 L367.9 206.6M365.3 222.1 L371.6 220.8M367.4 236.3 L373.7 235.8M367.6 250.2 L374.0 250.5M366.1 264.9 L372.4 266.0M362.3 279.8 L368.4 281.8M126.7 62.7 L125.2 56.5M144.5 59.6 L143.8 53.3M163.0 58.8 L163.1 52.4M181.9 59.8 L182.6 53.4M200.9 62.5 L202.1 56.2M219.3 66.9 L221.2 60.8M237.6 73.5 L240.1 67.6M254.8 82.2 L258.0 76.6M270.4 92.1 L274.1 86.9M284.2 102.7 L288.2 97.7M297.2 113.8 L301.5 109.1M309.1 125.3 L313.7 120.9M319.5 136.7 L324.4 132.5M329.2 148.5 L334.2 144.6M337.8 160.5 L343.1 156.9M345.4 172.6 L350.9 169.4M352.0 184.7 L357.8 181.8M357.9 197.8 L363.9 195.4" stroke="#2b211e" stroke-width="9.4" stroke-linecap="round" fill="none"/>
<g clip-path="url(#ringclip)">
<g stroke="#443a36" stroke-linecap="round" fill="none"><path d="M356.3 294.7 L402.9 324.7" stroke-width="10.8"/><path d="M347.8 309.0 L380.8 353.3" stroke-width="11.1"/><path d="M336.3 322.6 L351.7 375.4" stroke-width="11.5"/><path d="M323.0 333.8 L322.7 388.6" stroke-width="11.9"/><path d="M307.7 342.7 L295.3 395.9" stroke-width="12.2"/><path d="M291.3 349.0 L275.7 401.2" stroke-width="12.6"/><path d="M273.5 352.0 L255.7 403.3" stroke-width="12.9"/><path d="M255.1 351.7 L234.9 402.0" stroke-width="13.2"/><path d="M237.0 348.5 L214.4 397.6" stroke-width="13.4"/><path d="M218.4 342.8 L193.2 390.6" stroke-width="13.5"/><path d="M200.9 336.0 L173.3 382.4" stroke-width="13.5"/><path d="M183.4 328.4 L153.5 373.5" stroke-width="13.4"/><path d="M166.5 320.0 L134.3 363.7" stroke-width="13.0"/><path d="M151.5 310.4 L117.1 352.7" stroke-width="12.6"/><path d="M138.2 299.5 L101.7 340.4" stroke-width="12.1"/><path d="M126.1 288.1 L87.7 327.5" stroke-width="11.5"/><path d="M114.7 276.7 L74.4 314.6" stroke-width="11.0"/><path d="M104.3 265.6 L62.5 302.1" stroke-width="10.6"/><path d="M95.1 254.5 L51.8 289.4" stroke-width="10.3"/><path d="M86.9 242.4 L42.2 275.7" stroke-width="10.1"/><path d="M80.4 230.4 L34.4 262.1" stroke-width="9.9"/><path d="M74.9 217.4 L27.7 247.4" stroke-width="9.8"/><path d="M70.6 204.5 L22.4 232.8" stroke-width="9.8"/><path d="M67.1 191.3 L17.9 217.8" stroke-width="9.8"/><path d="M64.3 177.3 L14.2 201.9" stroke-width="10.0"/><path d="M62.5 163.7 L11.6 186.5" stroke-width="10.1"/><path d="M61.9 149.6 L10.3 170.4" stroke-width="10.3"/><path d="M62.9 135.2 L10.7 154.0" stroke-width="10.5"/><path d="M66.0 120.0 L12.1 132.7" stroke-width="10.8"/><path d="M71.6 105.2 L16.4 106.9" stroke-width="11.1"/><path d="M80.6 90.9 L27.4 76.6" stroke-width="11.5"/><path d="M93.2 78.0 L49.9 44.4" stroke-width="11.8"/><path d="M108.9 68.3 L83.3 19.9" stroke-width="12.2"/></g>
<path d="M356.3 294.7 L402.9 324.7M347.8 309.0 L380.8 353.3M336.3 322.6 L351.7 375.4M323.0 333.8 L322.7 388.6M307.7 342.7 L295.3 395.9M291.3 349.0 L275.7 401.2M273.5 352.0 L255.7 403.3M255.1 351.7 L234.9 402.0M237.0 348.5 L214.4 397.6M218.4 342.8 L193.2 390.6M200.9 336.0 L173.3 382.4M183.4 328.4 L153.5 373.5M166.5 320.0 L134.3 363.7M151.5 310.4 L117.1 352.7M138.2 299.5 L101.7 340.4M126.1 288.1 L87.7 327.5M114.7 276.7 L74.4 314.6M104.3 265.6 L62.5 302.1M95.1 254.5 L51.8 289.4M86.9 242.4 L42.2 275.7M80.4 230.4 L34.4 262.1M74.9 217.4 L27.7 247.4M70.6 204.5 L22.4 232.8M67.1 191.3 L17.9 217.8M64.3 177.3 L14.2 201.9M62.5 163.7 L11.6 186.5M61.9 149.6 L10.3 170.4M62.9 135.2 L10.7 154.0M66.0 120.0 L12.1 132.7M71.6 105.2 L16.4 106.9M80.6 90.9 L27.4 76.6M93.2 78.0 L49.9 44.4M108.9 68.3 L83.3 19.9" stroke="#51463f" stroke-width="4" stroke-linecap="round" fill="none" transform="translate(-1.2,-0.8)"/>
<path d="M131.4 40.6 L128.9 41.7 L126.4 42.8 L123.9 44.0 L121.4 45.2 L118.9 46.5 L116.5 47.8 L114.1 49.2 L111.6 50.6 L109.2 52.0 L106.9 53.5 L104.5 54.9 L102.1 56.5 L99.8 58.0 L97.5 59.6 L95.2 61.3 L92.9 62.9 L90.7 64.6 L88.4 66.4 L86.2 68.1 L84.0 70.0 L81.8 71.8 L79.7 73.7 L77.6 75.6 L75.5 77.5 L73.4 79.5 L71.4 81.5 L69.4 83.6 L67.4 85.7 L65.5 87.8 L63.6 90.0 L61.7 92.2 L59.9 94.5 L58.2 96.8 L56.5 99.1 L54.8 101.5 L53.2 103.9 L51.7 106.4 L50.2 108.8 L48.7 111.4 L47.3 113.9 L46.0 116.5 L44.8 119.1 L43.6 121.7 L42.5 124.4 L41.4 127.1 L40.4 129.8 L39.5 132.6 L38.6 135.3 L37.8 138.1 L37.1 140.9 L36.4 143.7 L35.8 146.6 L35.3 149.4 L34.8 152.2 L34.4 155.1 L34.1 158.0 L33.8 160.8 L33.5 163.7 L33.4 166.6 L33.2 169.4 L33.2 172.3 L33.2 175.1 L33.2 178.0 L33.3 180.8 L33.4 183.7 L33.6 186.5 L33.8 189.3 L34.1 192.1 L34.4 195.0 L34.8 197.7 L35.1 200.5 L35.6 203.3 L36.1 206.0 L36.6 208.8 L37.1 211.5 L37.7 214.2 L38.4 216.9 L39.0 219.6 L39.7 222.3 L40.5 224.9 L41.3 227.5 L42.1 230.1 L42.9 232.7 L43.8 235.3 L44.8 237.8 L45.8 240.4 L46.8 242.9 L47.8 245.4 L48.9 247.8 L50.0 250.3 L51.2 252.7 L52.4 255.1 L53.6 257.4 L54.9 259.8 L56.2 262.1 L57.6 264.4 L59.0 266.6 L60.4 268.8 L61.8 271.0 L63.3 273.2 L64.8 275.3 L66.4 277.4 L67.9 279.5 L69.5 281.5 L71.1 283.6 L72.8 285.5 L74.5 287.5 L76.2 289.4 L77.9 291.3 L79.6 293.2 L81.4 295.0 L83.1 296.8 L84.9 298.6 L86.7 300.4 L88.5 302.1 L90.3 303.8 L92.2 305.5 L94.0 307.1 L95.9 308.7 L97.8 310.3 L99.6 311.9 L101.5 313.5 L103.4 315.0 L105.3 316.5 L107.2 318.0 L109.1 319.5 L111.1 320.9 L113.0 322.4 L114.9 323.8 L116.9 325.2 L118.8 326.5 L120.8 327.9 L122.8 329.2 L124.7 330.5 L126.7 331.8 L128.7 333.1 L130.7 334.3 L132.7 335.6 L134.7 336.8 L136.7 338.0 L138.8 339.2 L140.8 340.3 L142.9 341.5 L144.9 342.6 L147.0 343.7 L149.1 344.8 L151.1 345.8 L153.2 346.9 L155.3 347.9 L157.4 348.9 L159.5 349.9 L161.7 350.9 L163.8 351.9 L165.9 352.8 L168.1 353.8 L170.2 354.7 L172.4 355.7 L174.5 356.6 L176.7 357.5 L178.9 358.4 L181.1 359.2 L183.3 360.1 L185.5 361.0 L187.8 361.8 L190.0 362.7 L192.3 363.5 L194.5 364.3 L196.8 365.1 L199.1 365.9 L201.4 366.7 L203.7 367.5 L206.1 368.3 L208.4 369.0 L210.8 369.7 L213.2 370.4 L215.6 371.1 L218.0 371.8 L220.4 372.4 L222.9 373.0 L225.3 373.6 L227.8 374.1 L230.3 374.6 L232.8 375.1 L235.4 375.5 L237.9 375.8 L240.5 376.2 L243.0 376.4 L245.6 376.6 L248.2 376.8 L250.8 376.9 L253.4 377.0 L256.0 376.9 L258.5 376.9 L261.1 376.7 L263.7 376.5 L266.3 376.2 L268.9 375.9 L271.5 375.5 L274.0 375.0 L276.6 374.4 L279.1 373.8 L281.6 373.1 L284.1 372.3 L286.6 371.5 L289.0 370.6 L291.4 369.7 L293.8 368.6 L296.2 367.6 L298.6 366.4 L300.9 365.3 L303.2 364.0 L305.4 362.8 L307.7 361.4 L309.9 360.1 L312.0 358.6 L314.2 357.2 L316.3 355.7 L318.4 354.2 L320.5 352.7 L322.6 351.1 L324.6 349.5 L326.6 347.9 L328.6 346.3 L330.5 344.6 L332.5 342.9 L334.4 341.2 L336.3 339.5 L338.2 337.8 L340.1 336.0 L341.9 334.3 L343.8 332.5 L345.6 330.7 L347.4 328.9 L349.2 327.1 L351.0 325.3 L352.7 323.5 L354.5 321.6 L356.2 319.7 L357.9 317.9 L359.6 315.9 L361.3 314.0 L362.9 312.1 L364.5 310.1 L366.1 308.1 L367.7 306.1 L369.3 304.1 L370.8 302.0 L372.2 299.9 L373.7 297.8 L375.1 295.7 L376.5 293.5 L377.8 291.3 L379.1 289.1 L380.3 286.9 L381.5 284.6 L382.7 282.3 L383.8 280.0 L384.9 277.7 L385.9 275.3 L386.8 272.9 L387.7 270.5 L388.6 268.1 L385.0 266.8 L384.2 269.1 L383.3 271.5 L382.4 273.8 L381.4 276.1 L380.4 278.4 L379.3 280.7 L378.2 282.9 L377.0 285.1 L375.8 287.3 L374.5 289.5 L373.2 291.6 L371.9 293.7 L370.5 295.8 L369.0 297.9 L367.6 299.9 L366.1 301.9 L364.6 303.9 L363.1 305.9 L361.5 307.8 L359.9 309.8 L358.3 311.7 L356.6 313.6 L355.0 315.4 L353.3 317.3 L351.6 319.1 L349.9 320.9 L348.2 322.7 L346.4 324.5 L344.7 326.3 L342.9 328.0 L341.1 329.8 L339.3 331.5 L337.5 333.2 L335.7 334.9 L333.8 336.6 L332.0 338.3 L330.1 340.0 L328.2 341.6 L326.3 343.2 L324.3 344.8 L322.4 346.4 L320.4 348.0 L318.4 349.5 L316.4 351.0 L314.3 352.5 L312.2 354.0 L310.1 355.4 L308.0 356.8 L305.8 358.1 L303.6 359.4 L301.4 360.7 L299.2 361.9 L296.9 363.0 L294.6 364.1 L292.3 365.2 L289.9 366.2 L287.6 367.1 L285.2 368.0 L282.7 368.8 L280.3 369.5 L277.8 370.2 L275.4 370.8 L272.9 371.3 L270.4 371.8 L267.9 372.2 L265.3 372.5 L262.8 372.8 L260.3 373.0 L257.7 373.1 L255.2 373.2 L252.6 373.2 L250.1 373.2 L247.6 373.1 L245.0 372.9 L242.5 372.7 L240.0 372.4 L237.5 372.1 L235.0 371.7 L232.6 371.3 L230.1 370.8 L227.6 370.3 L225.2 369.8 L222.8 369.2 L220.4 368.6 L218.0 368.0 L215.7 367.3 L213.3 366.6 L211.0 365.9 L208.7 365.1 L206.4 364.3 L204.1 363.6 L201.8 362.7 L199.6 361.9 L197.4 361.1 L195.2 360.2 L193.0 359.4 L190.8 358.5 L188.6 357.6 L186.5 356.8 L184.3 355.9 L182.2 354.9 L180.1 354.0 L177.9 353.1 L175.8 352.2 L173.8 351.2 L171.7 350.3 L169.6 349.3 L167.6 348.3 L165.5 347.3 L163.5 346.3 L161.4 345.3 L159.4 344.3 L157.4 343.2 L155.4 342.1 L153.4 341.1 L151.4 340.0 L149.5 338.9 L147.5 337.7 L145.6 336.6 L143.6 335.4 L141.7 334.3 L139.8 333.1 L137.9 331.9 L136.0 330.6 L134.1 329.4 L132.2 328.1 L130.3 326.8 L128.4 325.6 L126.6 324.2 L124.7 322.9 L122.9 321.6 L121.1 320.2 L119.2 318.8 L117.4 317.4 L115.6 316.0 L113.8 314.6 L112.0 313.1 L110.2 311.7 L108.4 310.2 L106.7 308.7 L104.9 307.1 L103.2 305.6 L101.4 304.0 L99.7 302.4 L97.9 300.8 L96.2 299.2 L94.5 297.6 L92.8 295.9 L91.1 294.2 L89.5 292.5 L87.8 290.7 L86.2 289.0 L84.5 287.2 L82.9 285.3 L81.4 283.5 L79.8 281.6 L78.3 279.7 L76.7 277.8 L75.2 275.8 L73.8 273.8 L72.3 271.8 L70.9 269.8 L69.5 267.7 L68.2 265.6 L66.8 263.5 L65.5 261.3 L64.3 259.2 L63.0 257.0 L61.8 254.7 L60.7 252.5 L59.5 250.2 L58.4 247.9 L57.4 245.6 L56.3 243.3 L55.3 240.9 L54.4 238.5 L53.5 236.1 L52.6 233.7 L51.7 231.3 L50.9 228.8 L50.1 226.3 L49.4 223.8 L48.6 221.3 L48.0 218.8 L47.3 216.2 L46.7 213.7 L46.1 211.1 L45.6 208.5 L45.1 205.9 L44.6 203.3 L44.1 200.6 L43.7 198.0 L43.4 195.3 L43.1 192.7 L42.8 190.0 L42.5 187.3 L42.3 184.6 L42.2 181.9 L42.0 179.2 L42.0 176.5 L41.9 173.7 L42.0 171.0 L42.1 168.3 L42.2 165.5 L42.4 162.8 L42.6 160.0 L42.9 157.3 L43.2 154.6 L43.7 151.8 L44.1 149.1 L44.7 146.4 L45.2 143.7 L45.9 141.0 L46.6 138.3 L47.4 135.7 L48.2 133.0 L49.1 130.4 L50.1 127.8 L51.1 125.2 L52.2 122.7 L53.4 120.1 L54.6 117.7 L55.9 115.2 L57.2 112.7 L58.6 110.3 L60.0 108.0 L61.5 105.6 L63.1 103.3 L64.7 101.1 L66.3 98.8 L68.0 96.6 L69.7 94.5 L71.5 92.4 L73.3 90.3 L75.2 88.2 L77.0 86.2 L79.0 84.2 L80.9 82.3 L82.9 80.3 L84.9 78.5 L86.9 76.6 L89.0 74.8 L91.0 73.0 L93.1 71.3 L95.3 69.6 L97.4 67.9 L99.6 66.2 L101.7 64.6 L103.9 63.0 L106.1 61.5 L108.4 59.9 L110.6 58.4 L112.9 57.0 L115.2 55.5 L117.5 54.1 L119.8 52.8 L122.1 51.5 L124.5 50.2 L126.8 48.9 L129.2 47.7 L131.6 46.5 L134.0 45.4Z" fill="#2c2320"/>
<path d="M133.4 44.2 L130.9 45.3 L128.5 46.5 L126.1 47.7 L123.7 48.9 L121.3 50.2 L118.9 51.5 L116.6 52.8 L114.2 54.2 L111.9 55.6 L109.6 57.0 L107.3 58.5 L105.0 60.0 L102.7 61.6 L100.5 63.2 L98.3 64.8 L96.1 66.4 L93.9 68.1 L91.7 69.8 L89.6 71.5 L87.4 73.3 L85.3 75.1 L83.2 76.9 L81.2 78.8 L79.2 80.7 L77.2 82.7 L75.2 84.7 L73.2 86.7 L71.3 88.7 L69.5 90.8 L67.6 93.0 L65.9 95.1 L64.1 97.3 L62.4 99.6 L60.8 101.9 L59.2 104.2 L57.6 106.5 L56.1 108.9 L54.7 111.4 L53.3 113.8 L52.0 116.3 L50.7 118.8 L49.5 121.4 L48.4 123.9 L47.3 126.5 L46.3 129.2 L45.3 131.8 L44.5 134.5 L43.6 137.2 L42.9 139.9 L42.2 142.6 L41.6 145.4 L41.0 148.1 L40.5 150.9 L40.0 153.7 L39.7 156.4 L39.3 159.2 L39.1 162.0 L38.9 164.8 L38.7 167.6 L38.6 170.4 L38.6 173.2 L38.6 175.9 L38.6 178.7 L38.7 181.5 L38.9 184.3 L39.1 187.0 L39.3 189.7 L39.6 192.5 L39.9 195.2 L40.2 197.9 L40.6 200.6 L41.1 203.3 L41.6 206.0 L42.1 208.6 L42.6 211.3 L43.2 213.9 L43.8 216.5 L44.5 219.1 L45.2 221.7 L45.9 224.2 L46.7 226.8 L47.5 229.3 L48.3 231.8 L49.2 234.3 L50.1 236.8 L51.1 239.2 L52.1 241.7 L53.1 244.1 L54.2 246.5 L55.2 248.8 L56.4 251.1 L57.5 253.5 L58.8 255.8 L60.0 258.0 L61.3 260.3 L62.6 262.5 L63.9 264.6 L65.3 266.8 L66.7 268.9 L68.1 271.0 L69.6 273.1 L71.1 275.1 L72.6 277.1 L74.1 279.1 L75.7 281.1 L77.3 283.0 L78.9 284.9 L80.6 286.8 L82.2 288.6 L83.9 290.4 L85.6 292.2 L87.3 294.0 L89.0 295.7 L90.8 297.4 L92.5 299.1 L94.3 300.7 L96.0 302.4 L97.8 304.0 L99.6 305.6 L101.4 307.1 L103.2 308.7 L105.0 310.2 L106.9 311.7 L108.7 313.2 L110.5 314.6 L112.4 316.1 L114.2 317.5 L116.1 318.9 L118.0 320.3 L119.9 321.6 L121.7 323.0 L123.6 324.3 L125.5 325.6 L127.4 326.9 L129.3 328.2 L131.2 329.5 L133.2 330.7 L135.1 331.9 L137.1 333.1 L139.0 334.3 L141.0 335.5 L142.9 336.6 L144.9 337.8 L146.9 338.9 L148.9 340.0 L150.9 341.1 L152.9 342.2 L154.9 343.2 L157.0 344.2 L159.0 345.3 L161.0 346.3 L163.1 347.3 L165.2 348.3 L167.2 349.2 L169.3 350.2 L171.4 351.1 L173.5 352.1 L175.6 353.0 L177.7 353.9 L179.8 354.8 L182.0 355.7 L184.1 356.6 L186.3 357.5 L188.5 358.4 L190.6 359.3 L192.8 360.1 L195.0 361.0 L197.3 361.8 L199.5 362.6 L201.8 363.5 L204.0 364.3 L206.3 365.1 L208.6 365.8 L210.9 366.6 L213.3 367.3 L215.6 368.0 L218.0 368.7 L220.4 369.4 L222.8 370.0 L225.2 370.6 L227.7 371.1 L230.1 371.6 L232.6 372.1 L235.1 372.5 L237.6 372.9 L240.1 373.2 L242.6 373.5 L245.2 373.7 L247.7 373.8 L250.3 374.0 L252.8 374.0 L255.3 374.0 L257.9 373.9 L260.4 373.8 L263.0 373.6 L265.6 373.3 L268.1 373.0 L270.6 372.6 L273.1 372.1 L275.6 371.6 L278.1 370.9 L280.6 370.3 L283.0 369.5 L285.5 368.7 L287.9 367.8 L290.2 366.9 L292.6 365.9 L294.9 364.8 L297.2 363.7 L299.5 362.6 L301.8 361.4 L304.0 360.1 L306.2 358.8 L308.4 357.5 L310.5 356.1 L312.6 354.7 L314.7 353.2 L316.8 351.7 L318.8 350.2 L320.8 348.6 L322.8 347.1 L324.8 345.5 L326.8 343.9 L328.7 342.2 L330.6 340.6 L332.5 338.9 L334.3 337.2 L336.2 335.5 L338.0 333.8 L339.9 332.1 L341.7 330.4 L343.5 328.6 L345.3 326.8 L347.0 325.1 L348.8 323.3 L350.5 321.5 L352.2 319.6 L353.9 317.8 L355.6 315.9 L357.3 314.1 L358.9 312.2 L360.5 310.2 L362.1 308.3 L363.7 306.4 L365.3 304.4 L366.8 302.4 L368.3 300.4 L369.7 298.3 L371.1 296.2 L372.5 294.1 L373.9 292.0 L375.2 289.9 L376.5 287.7 L377.7 285.5 L378.9 283.3 L380.0 281.0 L381.1 278.7 L382.1 276.4 L383.1 274.1 L384.0 271.8 L384.9 269.4 L385.8 267.1" stroke="#6b5243" stroke-width="0.9" fill="none" opacity="0.6"/>
</g>
<g clip-path="url(#rootclip)">
<g clip-path="url(#cresclip)"><path d="M390.2 188.9 C389.0 184.1 387.6 179.5 386.0 175.0 C384.3 170.4 382.5 166.0 380.4 161.7 C378.3 157.5 376.0 153.3 373.6 149.3 C371.2 145.3 368.5 141.5 365.8 137.8 C363.1 134.1 360.3 130.5 357.4 127.0 C354.6 123.5 351.7 120.2 348.8 116.9 C345.9 113.5 343.0 110.3 340.0 107.1 C337.1 103.8 334.2 100.6 331.3 97.4 C328.3 94.2 325.3 90.9 322.3 87.8 C319.2 84.6 316.0 81.5 312.8 78.4 C309.5 75.4 306.1 72.4 302.5 69.6 C299.0 66.8 295.3 64.1 291.4 61.6 C287.6 59.0 283.6 56.7 279.5 54.5 C275.4 52.3 271.2 50.3 266.8 48.4 C262.5 46.5 258.1 44.7 253.6 43.1 C249.1 41.5 244.5 39.9 239.8 38.5 C235.0 37.1 230.2 35.8 225.3 34.6 C220.4 33.4 215.4 32.4 210.3 31.5 C205.2 30.7 200.0 30.0 194.7 29.7 C189.5 29.3 184.1 29.2 178.8 29.5 C173.4 29.7 168.0 30.3 162.7 31.2 C157.4 32.1 152.0 33.4 146.8 34.9 C141.6 36.5 136.4 38.4 131.4 40.6 C126.3 42.7 121.4 45.2 116.5 47.8 C111.6 50.5 106.8 53.4 102.1 56.5 C97.5 59.6 92.9 62.9 88.4 66.4 C84.0 69.9 79.6 73.6 75.5 77.5 C71.3 81.5 67.3 85.6 63.6 90.0 C59.9 94.4 56.3 99.1 53.2 103.9 C50.1 108.8 47.2 113.9 44.8 119.1 C42.4 124.3 40.3 129.8 38.6 135.3 C37.0 140.9 35.7 146.6 34.8 152.2 C33.9 157.9 33.4 163.7 33.2 169.4 C33.0 175.1 33.2 180.9 33.6 186.5 C34.0 192.2 34.7 197.8 35.6 203.3 C36.5 208.8 37.7 214.3 39.0 219.6 C40.4 224.9 42.0 230.2 43.8 235.3 C45.7 240.4 47.7 245.4 50.0 250.3 C52.3 255.1 54.9 259.8 57.6 264.4 C60.3 268.9 63.3 273.2 66.4 277.4 C69.5 281.6 72.8 285.6 76.2 289.4 C79.5 293.2 83.1 296.9 86.7 300.4 C90.3 303.8 94.0 307.2 97.8 310.3 C101.5 313.5 105.3 316.6 109.1 319.5 C113.0 322.4 116.9 325.2 120.8 327.9 C124.7 330.6 128.7 333.1 132.7 335.6 C136.7 338.0 140.8 340.4 144.9 342.6 C149.0 344.8 153.2 346.9 157.4 348.9 C161.6 351.0 165.9 352.9 170.2 354.7 C174.5 356.6 178.9 358.4 183.3 360.1 C187.8 361.8 192.2 363.5 196.8 365.1 C201.4 366.7 206.0 368.3 210.8 369.7 C215.5 371.1 220.4 372.5 225.3 373.6 C230.3 374.6 235.4 375.6 240.5 376.2 C245.6 376.7 250.8 377.1 256.0 376.9 C261.1 376.8 266.4 376.4 271.5 375.5 C276.6 374.5 281.7 373.2 286.6 371.5 C291.5 369.8 296.3 367.7 300.9 365.3 C305.5 362.9 309.9 360.1 314.2 357.2 C318.5 354.3 322.6 351.1 326.6 347.9 C330.6 344.6 334.4 341.2 338.2 337.8 C342.0 334.3 345.6 330.8 349.2 327.1 C352.7 323.5 356.2 319.8 359.6 315.9 C362.9 312.1 366.2 308.2 369.3 304.1 C372.3 300.0 375.2 295.7 377.8 291.3 C380.4 286.9 382.8 282.4 384.9 277.7 C386.9 273.0 388.7 268.2 390.1 263.3 C391.5 258.4 392.6 253.3 393.4 248.3 C394.2 243.3 394.7 238.2 394.9 233.2 C395.1 228.2 395.1 223.1 394.8 218.1 C394.5 213.1 393.9 208.2 393.2 203.3 C392.4 198.4 391.4 193.6 390.2 188.9Z" fill="url(#backg)"/>
<ellipse cx="378" cy="279" rx="6.5" ry="30" fill="url(#glare)" transform="rotate(22 378 279)"/>
</g>
<path d="M83.0 72.5 C84.0 72.5 86.7 73.1 89.0 72.6 C91.3 72.1 93.6 70.6 97.0 69.3 C100.4 68.0 103.3 66.8 109.5 64.6 C115.7 62.4 126.1 58.0 134.3 55.9 C142.6 53.8 150.8 52.8 159.0 52.2 C167.2 51.6 175.6 51.4 183.8 52.2 C192.1 53.0 200.2 55.1 208.5 57.2 C216.8 59.3 226.0 61.7 233.3 64.6 C240.6 67.5 246.3 70.9 252.4 74.6 C258.5 78.3 263.8 82.3 270.0 87.0 C276.2 91.7 283.7 97.4 289.5 102.5 C295.3 107.6 300.1 112.8 305.0 117.5 C309.9 122.2 314.2 126.6 319.0 131.0 C323.8 135.4 329.6 140.2 333.5 144.0 C337.4 147.8 339.5 150.0 342.2 153.5 C344.9 157.0 347.3 160.9 349.6 164.8 C351.9 168.7 354.0 173.0 355.8 177.1 C357.6 181.2 359.2 185.4 360.7 189.5 C362.2 193.6 363.8 197.8 365.0 201.9 C366.2 206.0 367.3 210.2 368.2 214.3 C369.1 218.4 370.0 222.3 370.6 226.6 C371.2 230.9 371.5 236.1 371.9 240.0 C372.3 243.9 373.1 246.3 373.2 250.0 C373.2 253.7 372.8 257.9 372.2 262.0 C371.6 266.1 370.6 270.1 369.5 274.4 C368.4 278.7 366.8 284.0 365.4 288.0 C364.0 292.0 362.4 295.2 361.0 298.5 C359.6 301.8 358.3 304.9 357.3 308.0 C356.3 311.1 355.6 313.7 355.0 317.0 C354.4 320.3 354.2 326.2 354.0 328.0" stroke="#2a211e" stroke-width="6" fill="none" transform="translate(-2,3.2)"/>
<path d="M83.0 72.5 C84.0 72.5 86.7 73.1 89.0 72.6 C91.3 72.1 93.6 70.6 97.0 69.3 C100.4 68.0 103.3 66.8 109.5 64.6 C115.7 62.4 126.1 58.0 134.3 55.9 C142.6 53.8 150.8 52.8 159.0 52.2 C167.2 51.6 175.6 51.4 183.8 52.2 C192.1 53.0 200.2 55.1 208.5 57.2 C216.8 59.3 226.0 61.7 233.3 64.6 C240.6 67.5 246.3 70.9 252.4 74.6 C258.5 78.3 263.8 82.3 270.0 87.0 C276.2 91.7 283.7 97.4 289.5 102.5 C295.3 107.6 300.1 112.8 305.0 117.5 C309.9 122.2 314.2 126.6 319.0 131.0 C323.8 135.4 329.6 140.2 333.5 144.0 C337.4 147.8 339.5 150.0 342.2 153.5 C344.9 157.0 347.3 160.9 349.6 164.8 C351.9 168.7 354.0 173.0 355.8 177.1 C357.6 181.2 359.2 185.4 360.7 189.5 C362.2 193.6 363.8 197.8 365.0 201.9 C366.2 206.0 367.3 210.2 368.2 214.3 C369.1 218.4 370.0 222.3 370.6 226.6 C371.2 230.9 371.5 236.1 371.9 240.0 C372.3 243.9 373.1 246.3 373.2 250.0 C373.2 253.7 372.8 257.9 372.2 262.0 C371.6 266.1 370.6 270.1 369.5 274.4 C368.4 278.7 366.8 284.0 365.4 288.0 C364.0 292.0 362.4 295.2 361.0 298.5 C359.6 301.8 358.3 304.9 357.3 308.0 C356.3 311.1 355.6 313.7 355.0 317.0 C354.4 320.3 354.2 326.2 354.0 328.0" stroke="#7d614f" stroke-width="1.1" fill="none"/>
</g>
</g>
<rect x="24" y="12.9" width="379.9" height="379.95" fill="none" stroke="#060606" stroke-width="2.1"/>
</g>


<g fill="none" stroke="#1d1a1b" stroke-linecap="butt" stroke-linejoin="round">
 <g stroke-width="3.3">
  <path d="M654 83.5 H1082.6 L1166 171.5" stroke-linejoin="miter"/>
  <path d="M736.3 171.5 H1166"/>
  <path d="M654.3 83.5 L736.3 171.5"/>
  <path d="M849.50 327.50 A60.0 60.0 0 0 0 901.00 298.29 A112 112 0 0 0 915.35 259.22 A20.0 20.0 0 0 1 935.07 242.50 L965.93 242.50 A20.0 20.0 0 0 1 985.65 259.22 A112 112 0 0 0 1000.00 298.29 A60.0 60.0 0 0 0 1051.50 327.50 A62.0 62.0 0 0 0 1103.50 299.26 A112 112 0 0 0 1120.27 255.23 A15.0 15.0 0 0 1 1135.10 242.50 L1165 242.5"/>
  <path d="M654 155 L737.4 242.4 L806.92 310.18"/>
  <path d="M945.1 242.6 L1008.00 308.82"/>
  <path d="M1166.0 171.5 C1164.7 173.1 1157.7 177.1 1158.0 181.0 C1158.3 184.9 1167.7 190.2 1168.0 195.0 C1168.3 199.8 1160.0 205.2 1160.0 210.0 C1160.0 214.8 1168.2 219.8 1168.0 224.0 C1167.8 228.2 1159.5 231.9 1159.0 235.0 C1158.5 238.1 1164.0 241.2 1165.0 242.5" stroke-width="3.1"/>
 </g>
 <g stroke-width="3.1">
  <path d="M654.3 83.5 C654.9 85.0 657.7 90.2 658.0 92.5 C658.3 94.8 655.5 95.1 656.0 97.5 C656.5 99.9 661.3 104.0 661.2 107.0 C661.1 110.0 656.0 112.3 655.5 115.5 C655.0 118.7 659.1 121.9 658.3 126.0 C657.5 130.1 650.7 136.4 650.5 140.0 C650.3 143.6 656.3 145.0 656.9 147.5 C657.5 150.0 654.5 153.8 654.0 155.0"/>
  <path d="M736.3 171.5 C737.2 172.9 741.9 177.6 742.0 179.8 C742.1 182.1 737.4 183.6 737.0 185.0 C736.6 186.4 738.3 186.6 739.5 188.0 C740.7 189.4 744.2 191.4 744.0 193.5 C743.8 195.6 738.5 197.2 738.0 200.5 C737.5 203.8 742.1 209.0 741.2 213.0 C740.3 217.0 733.4 221.8 732.5 224.5 C731.6 227.2 734.6 227.5 735.7 229.5 C736.8 231.5 738.7 234.3 739.0 236.5 C739.3 238.7 737.7 241.4 737.4 242.4"/>
 </g>
 <path d="M737.4 242.5 L768.10 242.50 A13.6 13.6 0 0 1 781.58 254.27 A112 112 0 0 0 798.00 299.19 A61.0 61.0 0 0 0 849.50 327.50" stroke-width="3.0"/>
 <g stroke-width="3.0"><ellipse cx="675.0" cy="138.5" rx="5.6" ry="15.0" transform="rotate(-8 675.0 138.5)"/><ellipse cx="691.3" cy="155.5" rx="5.4" ry="14.6" transform="rotate(-8 691.3 155.5)"/><ellipse cx="707.8" cy="173.0" rx="5.2" ry="14.0" transform="rotate(-8 707.8 173.0)"/><ellipse cx="723.1" cy="190.2" rx="4.7" ry="13.3" transform="rotate(-8 723.1 190.2)"/></g>
 <g stroke-width="1.1">
  <path d="M849.5 27 V246.5 M849.5 257.5 V269.5 M849.5 281 V337.5"/>
  <path d="M1051.5 27 V246.5 M1051.5 257.5 V269.5 M1051.5 281 V337.5"/>
  <path d="M855 36.5 H943.9 M966.3 36.5 H1046"/>
  <path d="M722 214.5 H1166" stroke-dasharray="61 11 13 11"/>
  <path d="M1176.8 214.5 H1244"/>
  <path d="M1165 242.5 H1244"/>
  <path d="M1166 171.5 H1292.5"/>
  <path d="M1052 327.5 H1292.5"/>
  <path d="M1234.5 188 V208"/>
  <path d="M1234.5 249 V272.2 M1234.5 296.5 V322"/>
  <path d="M1281.5 178 V241.5 M1281.5 264.8 V322"/>
  <path d="M735.8 55.6 L706.6 105.4"/>
  <path d="M723.5 191 L695.3 241"/>
  <path d="M771.5 259 L741.5 309.3"/>
  <path d="M838.9 303.1 L809.7 353.1"/>
  <path d="M1010.2 251.6 L988.6 267.2"/>
  <path d="M950.7 279 L975.2 249.4"/>
  <path d="M997.4 337 L1013 316.7"/>
 </g>
</g>
<g>
 <path d="M849.2 36.5 L860.4 33.5 L857.3 36.5 L860.4 39.5Z" fill="#1d1a1b"/><path d="M1051.8 36.5 L1040.6 39.5 L1043.7 36.5 L1040.6 33.5Z" fill="#1d1a1b"/>
 <path d="M1234.5 214.3 L1231.5 203.1 L1234.5 206.2 L1237.5 203.1Z" fill="#1d1a1b"/><path d="M1234.5 242.7 L1237.5 253.9 L1234.5 250.8 L1231.5 253.9Z" fill="#1d1a1b"/><path d="M1234.5 327.3 L1231.5 316.1 L1234.5 319.2 L1237.5 316.1Z" fill="#1d1a1b"/>
 <path d="M1281.5 171.7 L1284.5 182.9 L1281.5 179.8 L1278.5 182.9Z" fill="#1d1a1b"/><path d="M1281.5 327.3 L1278.5 316.1 L1281.5 319.2 L1284.5 316.1Z" fill="#1d1a1b"/>
 <path d="M988.6 267.2 L995.9 258.2 L995.1 262.5 L999.4 263.1Z" fill="#1d1a1b"/>
 <path d="M975.2 249.4 L970.4 259.9 L970.1 255.6 L965.7 256.1Z" fill="#1d1a1b"/>
 <path d="M1013.0 316.7 L1008.6 327.4 L1008.1 323.1 L1003.8 323.8Z" fill="#1d1a1b"/>
</g>
<g fill="#1d1a1b">
 <circle cx="706.3" cy="105.6" r="4.5"/>
 <circle cx="723.2" cy="190.3" r="4.5"/>
 <circle cx="771.4" cy="258.6" r="4.5"/>
 <circle cx="838.9" cy="303.1" r="4.5"/>
</g>
<g fill="#1d1a1b" font-family="'Liberation Sans', Arial, sans-serif"><text y="53.7" font-size="24.4"><tspan x="678.95" textLength="52.04" lengthAdjust="spacingAndGlyphs">Back</tspan> <tspan x="736.61" textLength="82.35" lengthAdjust="spacingAndGlyphs">Rubber</tspan></text>
<text y="262.7" font-size="24.4"><tspan x="624.94" textLength="52.37" lengthAdjust="spacingAndGlyphs">Core</tspan> <tspan x="682.44" textLength="50.55" lengthAdjust="spacingAndGlyphs">Wire</tspan></text>
<text y="330.4" font-size="24.4"><tspan x="660.39" textLength="65.52" lengthAdjust="spacingAndGlyphs">Tooth</tspan> <tspan x="732.00" textLength="66.76" lengthAdjust="spacingAndGlyphs">Fabric</tspan></text>
<text y="375.7" font-size="24.4"><tspan x="736.75" textLength="64.74" lengthAdjust="spacingAndGlyphs">Tooth</tspan> <tspan x="807.23" textLength="81.63" lengthAdjust="spacingAndGlyphs">Rubber</tspan></text>
<text y="247.2" font-size="24.4"><tspan x="1005.42" textLength="24.21" lengthAdjust="spacingAndGlyphs">R1</tspan></text>
<text y="299.1" font-size="24.4"><tspan x="916.02" textLength="60.14" lengthAdjust="spacingAndGlyphs">R0.15</tspan></text>
<text y="357.3" font-size="24.4"><tspan x="957.09" textLength="73.83" lengthAdjust="spacingAndGlyphs">R0.555</tspan></text>
<text y="43.7" font-size="24.4"><tspan x="948.00" textLength="13.84" lengthAdjust="spacingAndGlyphs">2</tspan></text>
<text y="237.6" font-size="24.4"><tspan x="1169.43" textLength="43.67" lengthAdjust="spacingAndGlyphs">PLD</tspan> <tspan x="1219.59" textLength="60.41" lengthAdjust="spacingAndGlyphs">0.254</tspan></text>
<text y="292.0" font-size="24.4"><tspan x="1210.90" textLength="46.55" lengthAdjust="spacingAndGlyphs">0.75</tspan></text>
<text y="261.3" font-size="24.4"><tspan x="1259.61" textLength="45.11" lengthAdjust="spacingAndGlyphs">1.38</tspan></text>
</g>

</svg>
</body></html>
